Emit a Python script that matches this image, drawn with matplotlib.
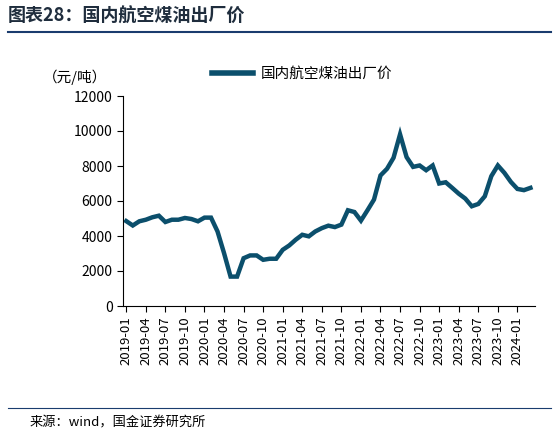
import matplotlib.pyplot as plt
import matplotlib.lines as mlines

plt.rcParams['font.family'] = ['Noto Sans CJK SC', 'DejaVu Sans']

months = [f"{y}-{m:02d}" for y in range(2019, 2025) for m in range(1, 13)][:63]
prices = [4850, 4600, 4840, 4930, 5070, 5160, 4800, 4930, 4930, 5030, 4970, 4840,
          5050, 5050, 4260, 3020, 1680, 1680, 2730, 2890, 2890, 2640, 2700, 2700,
          3210, 3460, 3790, 4070, 3980, 4260, 4450, 4590, 4510, 4650, 5470, 5370,
          4880, 5470, 6080, 7460, 7840, 8470, 9810, 8510, 7950, 8030, 7760, 8030,
          7000, 7070, 6750, 6420, 6140, 5700, 5830, 6270, 7420, 8030, 7610, 7090,
          6690, 6620, 6750]
series_name = "国内航空煤油出厂价"
color = '#0B4F6C'

fig = plt.figure(figsize=(5.59, 4.37), dpi=100)
ax = fig.add_axes([123 / 559, 1 - 306 / 437, 412 / 559, 210 / 437])

x = list(range(len(prices)))
ax.plot(x, prices, color=color, lw=3.2, solid_joinstyle='miter')
ax.set_xlim(-0.5, len(prices) - 0.3)
ax.set_ylim(0, 12000)
ax.set_yticks(range(0, 12001, 2000))
ax.set_xticks(x[::3])
ax.set_xticklabels(months[::3], rotation=90, fontsize=9.5)
ax.tick_params(axis='y', labelsize=10, direction='out', length=4)
ax.tick_params(axis='x', direction='out', length=4)
for s in ['top', 'right']:
    ax.spines[s].set_visible(False)

fig.text(75 / 559, 1 - 77 / 437, "（元/吨）", fontsize=10.5, ha='center', va='center')
handle = mlines.Line2D([], [], color=color, lw=4)
fig.legend([handle], [series_name], loc='center', bbox_to_anchor=(302 / 559, 1 - 74 / 437),
           frameon=False, fontsize=10.5, handlelength=2.8, handletextpad=0.5)

fig.text(8 / 559, 1 - 16 / 437, "图表28：国内航空煤油出厂价", fontsize=13, fontweight='bold',
         style='italic', color='#1F2D3D', va='center')
fig.add_artist(mlines.Line2D([8 / 559, 551 / 559], [1 - 32 / 437, 1 - 32 / 437], color='#1A3C6E', lw=1.5))
fig.add_artist(mlines.Line2D([8 / 559, 551 / 559], [1 - 408 / 437, 1 - 408 / 437], color='#1A3C6E', lw=0.8))
fig.text(30 / 559, 1 - 423 / 437, "来源：wind，国金证券研究所", fontsize=9.5, va='center')

fig.savefig("out.png", dpi=100)
